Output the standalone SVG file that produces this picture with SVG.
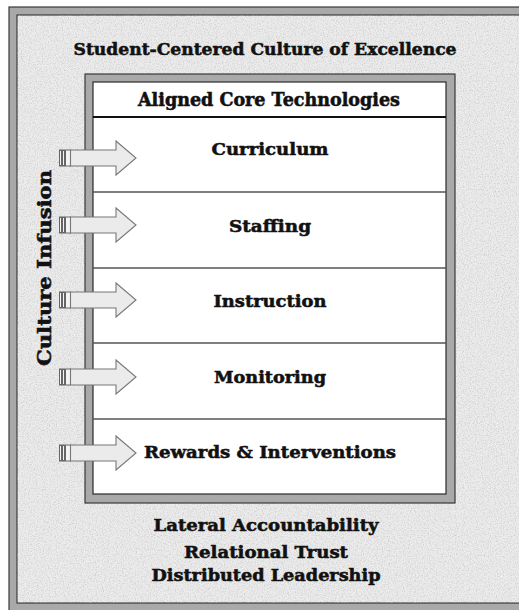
<svg xmlns="http://www.w3.org/2000/svg" width="519" height="610" viewBox="0 0 519 610">
  <defs>
    <filter id="noise" x="0" y="0" width="100%" height="100%">
      <feTurbulence type="fractalNoise" baseFrequency="0.85" numOctaves="2" seed="4" result="t"/>
      <feColorMatrix in="t" type="matrix" values="0 0 0 0 0.6  0 0 0 0 0.6  0 0 0 0 0.6  2.2 0 0 0 -0.95"/>
      <feComposite in2="SourceGraphic" operator="in"/>
    </filter>
    <g id="arrow">
      <rect x="59.5" y="-8" width="2" height="16" class="tail"/>
      <rect x="62.5" y="-8" width="2" height="16" class="tail"/>
      <rect x="65.5" y="-8" width="5" height="16" class="tail"/>
      <path d="M70.5,-8 H116 V-17 L136,0 L116,17 V8 H70.5 Z" class="shaft"/>
    </g>
  </defs>
  <style>
    .bg { fill: #ececec; }
    .band { fill: #a9a9a9; stroke: #3a3a3a; stroke-width: 1.2; }
    .cell { fill: #ffffff; stroke: #2a2a2a; stroke-width: 1.2; }
    .sep { stroke: #555555; stroke-width: 1.5; }
    .hsep { stroke: #111111; stroke-width: 2.2; }
    .t { font-family: "DejaVu Serif", "Liberation Serif", serif; font-weight: bold; fill: #111111; stroke: #111111; stroke-width: 0.55; text-anchor: middle; }
    .tail { fill: #f4f4f4; stroke: #666666; stroke-width: 1; }
    .shaft { fill: #ebebeb; stroke: #777777; stroke-width: 1.1; }
  </style>

  <!-- background and outer frame -->
  <rect x="0" y="0" width="519" height="610" fill="#ffffff"/>
  <rect x="9" y="7" width="530" height="620" class="band"/>
  <rect x="17" y="15" width="520" height="588" class="bg" stroke="#3a3a3a" stroke-width="1.2"/>
  <rect x="17.6" y="15.6" width="520" height="586.8" fill="#ececec" filter="url(#noise)"/>

  <g id="title">
    <text x="265" y="55" class="t" font-size="17" textLength="383" lengthAdjust="spacingAndGlyphs">Student-Centered Culture of Excellence</text>
  </g>

  <!-- inner frame -->
  <g id="core-frame">
    <rect x="85" y="74" width="370" height="429" class="band"/>
    <rect x="93" y="82" width="353" height="412" class="cell"/>
  </g>

  <g id="header">
    <text x="269" y="106" class="t" font-size="18" textLength="262" lengthAdjust="spacingAndGlyphs">Aligned Core Technologies</text>
    <line x1="93" y1="117" x2="446" y2="117" class="hsep"/>
  </g>

  <g id="row-curriculum">
    <text x="270" y="155" class="t" font-size="17" textLength="117" lengthAdjust="spacingAndGlyphs">Curriculum</text>
    <line x1="93" y1="192" x2="446" y2="192" class="sep"/>
  </g>
  <g id="row-staffing">
    <text x="270" y="232" class="t" font-size="17" textLength="82" lengthAdjust="spacingAndGlyphs">Staffing</text>
    <line x1="93" y1="268" x2="446" y2="268" class="sep"/>
  </g>
  <g id="row-instruction">
    <text x="270" y="307" class="t" font-size="17" textLength="113" lengthAdjust="spacingAndGlyphs">Instruction</text>
    <line x1="93" y1="343" x2="446" y2="343" class="sep"/>
  </g>
  <g id="row-monitoring">
    <text x="270" y="383" class="t" font-size="17" textLength="112" lengthAdjust="spacingAndGlyphs">Monitoring</text>
    <line x1="93" y1="419" x2="446" y2="419" class="sep"/>
  </g>
  <g id="row-rewards">
    <text x="270" y="458" class="t" font-size="17" textLength="252" lengthAdjust="spacingAndGlyphs">Rewards &amp; Interventions</text>
  </g>

  <g id="culture-infusion">
    <text x="0" y="0" transform="translate(51,268) rotate(-90)" class="t" font-size="18" textLength="196" lengthAdjust="spacingAndGlyphs">Culture Infusion</text>
  </g>

  <g id="connectors">
    <use href="#arrow" transform="translate(0,158)"/>
    <use href="#arrow" transform="translate(0,225)"/>
    <use href="#arrow" transform="translate(0,300)"/>
    <use href="#arrow" transform="translate(0,377)"/>
    <use href="#arrow" transform="translate(0,453)"/>
  </g>

  <g id="foundations">
    <text x="266" y="531" class="t" font-size="17" textLength="225" lengthAdjust="spacingAndGlyphs">Lateral Accountability</text>
    <text x="266" y="558" class="t" font-size="17" textLength="164" lengthAdjust="spacingAndGlyphs">Relational Trust</text>
    <text x="266" y="581" class="t" font-size="17" textLength="229" lengthAdjust="spacingAndGlyphs">Distributed Leadership</text>
  </g>
</svg>
